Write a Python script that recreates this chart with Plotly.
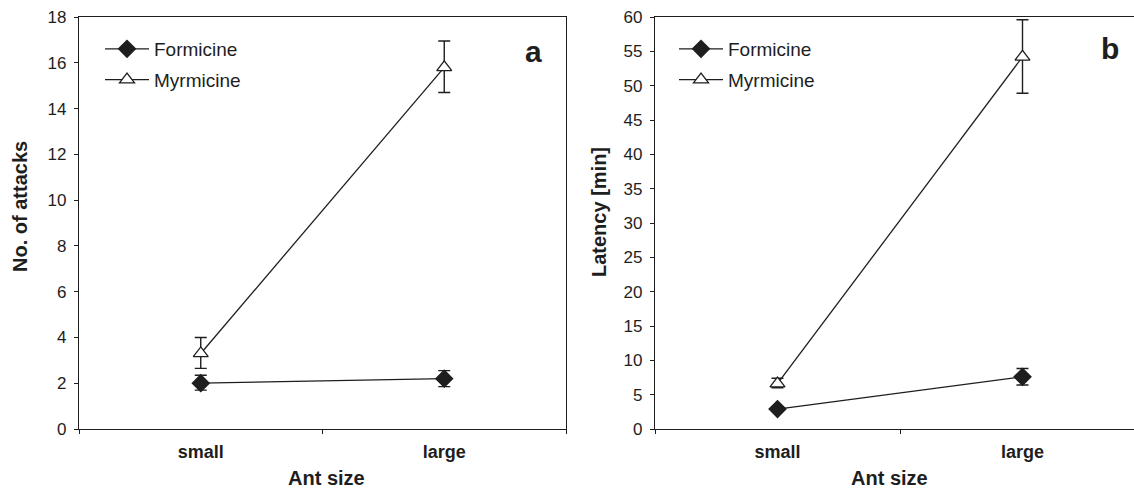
import plotly.graph_objects as go

# ---- data ----
sizes = ["small", "large"]
series_names = ["Formicine", "Myrmicine"]

attacks_formicine = [2.0, 2.2]
attacks_formicine_up = [0.35, 0.35]
attacks_formicine_down = [0.3, 0.35]
attacks_myrmicine = [3.3, 15.8]
attacks_myrmicine_up = [0.7, 1.15]
attacks_myrmicine_down = [0.65, 1.1]

latency_formicine = [2.9, 7.6]
latency_formicine_up = [0.3, 1.2]
latency_formicine_down = [0.3, 1.2]
latency_myrmicine = [6.6, 54.2]
latency_myrmicine_up = [0.8, 5.4]
latency_myrmicine_down = [0.6, 5.3]

attacks_ticks = list(range(0, 19, 2))
latency_ticks = list(range(0, 61, 5))

# ---- layout constants ----
W, H = 1134, 490
ML, MR, MT, MB = 79, 0, 17, 61
PW = W - ML - MR
PH = H - MT - MB
FONT = "Arial, Liberation Sans, sans-serif"
INK = "#1e1e1e"

def px(x):
    return (x - ML) / PW

def py(y):
    return (H - MB - y) / PH

fig = go.Figure()

def add_series(y, up, down, name, symbol, fill, xa, ya, legend, showleg=True):
    fig.add_trace(go.Scatter(
        x=sizes, y=y, name=name, mode="lines+markers",
        xaxis=xa, yaxis=ya, legend=legend, legendgroup=legend + name,
        line=dict(color=INK, width=1.3),
        marker=dict(symbol=symbol, size=13, color=fill,
                    line=dict(color=INK, width=1.3)),
        error_y=dict(type="data", symmetric=False, array=up, arrayminus=down,
                     color=INK, thickness=1.4, width=6),
        showlegend=showleg,
    ))

add_series(attacks_formicine, attacks_formicine_up, attacks_formicine_down,
           series_names[0], "diamond", INK, "x", "y", "legend")
add_series(attacks_myrmicine, attacks_myrmicine_up, attacks_myrmicine_down,
           series_names[1], "triangle-up", "white", "x", "y", "legend")
add_series(latency_formicine, latency_formicine_up, latency_formicine_down,
           series_names[0], "diamond", INK, "x2", "y2", "legend2")
add_series(latency_myrmicine, latency_myrmicine_up, latency_myrmicine_down,
           series_names[1], "triangle-up", "white", "x2", "y2", "legend2")

axis_common = dict(showline=True, linecolor=INK, linewidth=1.3, showgrid=False,
                   zeroline=False, ticks="outside", tickcolor=INK, ticklen=4,
                   tickwidth=1)

xa_a_right = 566
xb_left = 655
cat_px = 245  # pixel spacing between categories in panel b
xb_range_hi = -0.5 + (W - xb_left) / cat_px

legend_common = dict(xanchor="left", yanchor="top", font=dict(size=19),
                     bgcolor="rgba(0,0,0,0)", tracegroupgap=3, itemwidth=44)

fig.update_layout(
    width=W, height=H,
    margin=dict(l=ML, r=MR, t=MT, b=MB),
    paper_bgcolor="white", plot_bgcolor="white",
    font=dict(family=FONT, color=INK, size=17),
    xaxis=dict(domain=[0, px(xa_a_right)], type="category", range=[-0.5, 1.5],
               tickson="boundaries", mirror=True, anchor="y",
               ticklabelstandoff=6, **axis_common),
    yaxis=dict(domain=[0, 1], range=[0, 18], tickvals=attacks_ticks, mirror=True,
               anchor="x", tickfont=dict(size=17), ticklabelstandoff=4, **axis_common),
    xaxis2=dict(domain=[px(xb_left), 1], type="category", range=[-0.5, xb_range_hi],
                tickson="boundaries", mirror=True, anchor="y2",
                ticklabelstandoff=6, **axis_common),
    yaxis2=dict(domain=[0, 1], range=[0, 60], tickvals=latency_ticks, mirror=False,
                anchor="x2", tickfont=dict(size=17), ticklabelstandoff=4, **axis_common),
    legend=dict(x=px(100), y=py(30), **legend_common),
    legend2=dict(x=px(674), y=py(30), **legend_common),
)

# bold tick labels on category axes
fig.update_xaxes(tickfont=dict(size=18, family=FONT, weight="bold"))

def ann(text, x, y, size, angle=0):
    fig.add_annotation(text=text, x=px(x), y=py(y), xref="paper", yref="paper",
                       showarrow=False, textangle=angle, xanchor="center", yanchor="middle",
                       font=dict(size=size, family=FONT, color=INK, weight="bold"))

ann("Ant size", 326, 478, 20)
ann("Ant size", 889, 478, 20)
ann("No. of attacks", 20, 207, 20, -90)
ann("Latency [min]", 599, 212, 20, -90)
ann("a", 533, 52, 30)
ann("b", 1110, 49, 30)

fig.write_html("out.html", config={"displayModeBar": False},
               post_script="document.body.style.margin='0';document.body.style.padding='0';")
